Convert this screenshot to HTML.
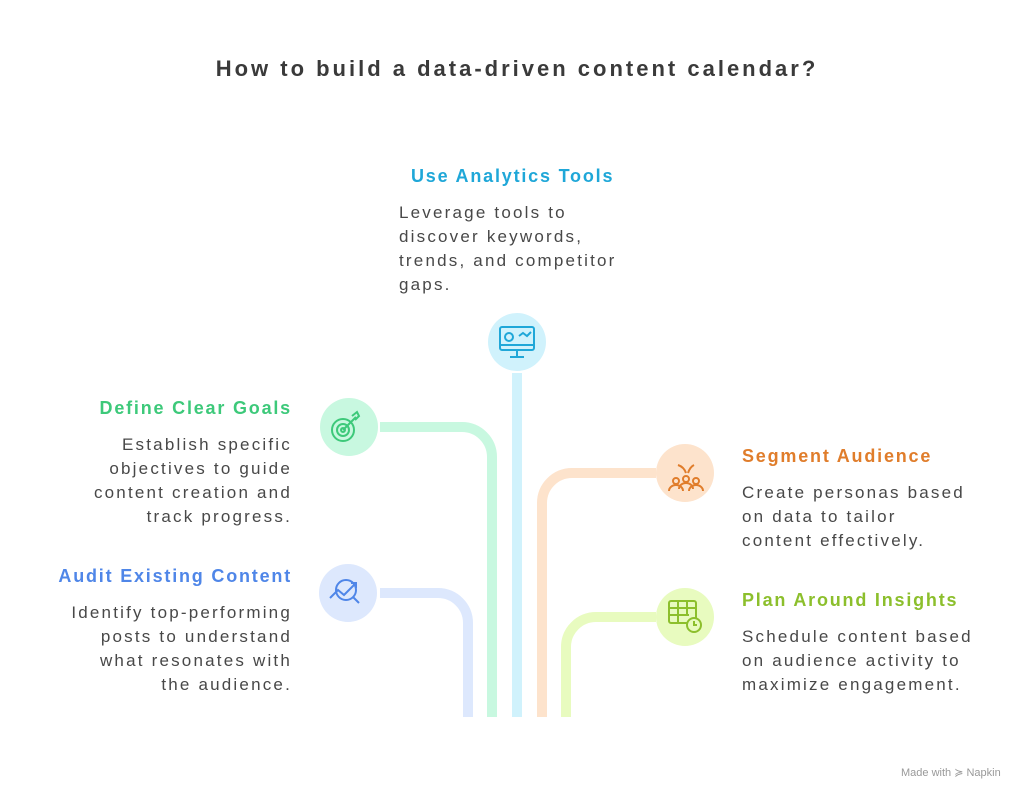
<!DOCTYPE html>
<html><head><meta charset="utf-8"><style>
body{margin:0;width:1034px;height:800px;background:#fff;position:relative;overflow:hidden;font-family:"Liberation Sans",sans-serif;color:#444}
.t{position:absolute;white-space:nowrap}
h1{position:absolute;left:0;width:1034px;top:56px;margin:0;text-align:center;font-size:22px;font-weight:bold;color:#3a3a3a;letter-spacing:3px}
.h{font-size:18px;font-weight:bold;letter-spacing:1.8px}
.b{font-size:17px;line-height:24px;color:#484848;letter-spacing:2.2px}
.r{text-align:right}
</style></head><body>
<h1>How to build a data-driven content calendar?</h1>
<svg width="1034" height="800" style="position:absolute;left:0;top:0" fill="none" stroke-linecap="butt">
<path d="M380 427 H462 A30 30 0 0 1 492 457 V717" stroke="#c8f8e0" stroke-width="10"/>
<path d="M380 593 H438 A30 30 0 0 1 468 623 V717" stroke="#dde8fd" stroke-width="10"/>
<path d="M517 373 V717" stroke="#d0f2fc" stroke-width="10"/>
<path d="M656 473 H572 A30 30 0 0 0 542 503 V717" stroke="#fde3cc" stroke-width="10"/>
<path d="M656 617 H596 A30 30 0 0 0 566 647 V717" stroke="#e8fbbf" stroke-width="10"/>
<circle cx="517" cy="342" r="29" fill="#d0f2fc"/>
<circle cx="349" cy="427" r="29" fill="#c8f8e0"/>
<circle cx="348" cy="593" r="29" fill="#dde8fd"/>
<circle cx="685" cy="473" r="29" fill="#fde3cc"/>
<circle cx="685" cy="617" r="29" fill="#e8fbbf"/>
<g stroke="#1fa7d8" stroke-width="2"><rect x="500" y="327" width="34" height="23" rx="2"/><line x1="500" y1="345" x2="534" y2="345"/><line x1="517" y1="350" x2="517" y2="357"/><line x1="510" y1="357" x2="524" y2="357"/><circle cx="509" cy="337" r="4"/><path d="M519 336 l4 -3 4 3 4 -4"/></g>
<g stroke="#3dc97a" stroke-width="2"><circle cx="343" cy="430" r="11"/><circle cx="343" cy="430" r="6"/><circle cx="343" cy="430" r="2"/><path d="M343 430 L356 417 M352 416 l5 -4 2 4 -4 4"/></g>
<g stroke="#4f86e8" stroke-width="2"><circle cx="346" cy="590" r="10"/><path d="M330 598 l8 -8 6 5 12 -12 M351 583 h5 v5"/><path d="M353 597 l6 6"/></g>
<g stroke="#e07d2b" stroke-width="2"><circle cx="676" cy="481" r="3"/><circle cx="686" cy="479" r="3"/><circle cx="696" cy="481" r="3"/><path d="M669 491 a7 6 0 0 1 14 0 M679 489 a7 6 0 0 1 14 0 M689 491 a7 6 0 0 1 14 0 M678 465 q6 2 8 8 M694 465 q-4 2 -6 8"/></g>
<g stroke="#8cbf2c" stroke-width="2"><rect x="669" y="601" width="27" height="22" rx="2"/><path d="M669 608 h27 M669 615 h20 M678 601 v22 M687 601 v13"/><circle cx="694" cy="625" r="7" fill="#e8fbbf"/><path d="M694 621 v4 h3"/></g>
</svg>
<div class="t h" style="left:411px;top:166px;color:#1fa7d8">Use Analytics Tools</div>
<div class="t b" style="left:399px;top:201px">Leverage tools to<br>discover keywords,<br>trends, and competitor<br>gaps.</div>
<div class="t h r" style="right:742px;top:398px;color:#3dc97a">Define Clear Goals</div>
<div class="t b r" style="right:742px;top:433px">Establish specific<br>objectives to guide<br>content creation and<br>track progress.</div>
<div class="t h r" style="right:742px;top:566px;color:#4f86e8">Audit Existing Content</div>
<div class="t b r" style="right:742px;top:601px">Identify top-performing<br>posts to understand<br>what resonates with<br>the audience.</div>
<div class="t h" style="left:742px;top:446px;color:#e07d2b">Segment Audience</div>
<div class="t b" style="left:742px;top:481px">Create personas based<br>on data to tailor<br>content effectively.</div>
<div class="t h" style="left:742px;top:590px;color:#8cbf2c">Plan Around Insights</div>
<div class="t b" style="left:742px;top:625px">Schedule content based<br>on audience activity to<br>maximize engagement.</div>
<div class="t" style="left:901px;top:766px;font-size:11px;color:#999">Made with ≽ Napkin</div>
</body></html>
